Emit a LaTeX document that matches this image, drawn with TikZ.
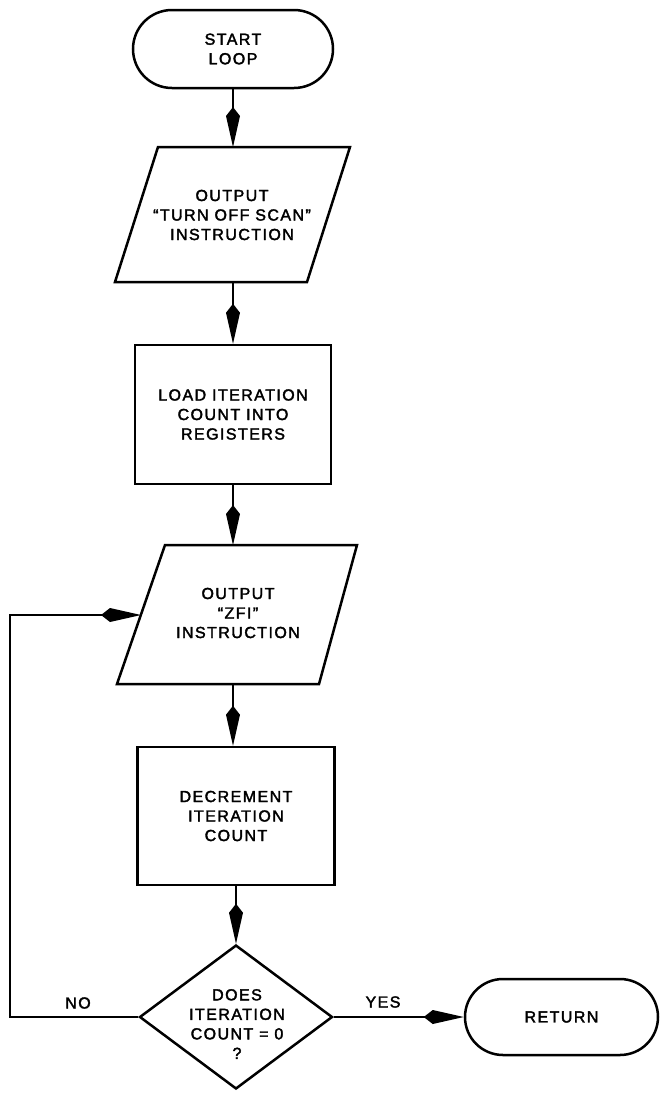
\documentclass[tikz,border=0pt]{standalone}
\usepackage{fontspec}
\setmainfont{Liberation Sans}[LetterSpace=9,FakeBold=2.2]
\usetikzlibrary{shapes.misc,shapes.geometric,arrows.meta}
\begin{document}
\begin{tikzpicture}[x=1pt,y=-1pt,
  shp/.style={draw=black,line width=2.5pt},
  txt/.style={align=center,inner sep=0pt,font=\fontsize{16}{19.5}\selectfont},
  term/.style={shp,txt,rounded rectangle,rounded rectangle arc length=180,minimum height=#1},
  box/.style={shp,txt,rectangle,minimum width=196pt,minimum height=139pt},
  conn/.style={line width=2.5pt,-{Kite[length=40pt,width=14pt,inset=9pt]}},
  lbl/.style={txt}]
\useasboundingbox (0,0) rectangle (660,1093);
\fill[white] (0,0) rectangle (660,1093);

% start terminal
\node[term=78pt,minimum width=200pt] (start) at (233,49) {START\\LOOP};

% parallelogram 1
\coordinate (p1tl) at (158,147);
\coordinate (p1tr) at (350,147);
\coordinate (p1br) at (307,282);
\coordinate (p1bl) at (115,282);
\coordinate (p1n) at (233,147);
\coordinate (p1s) at (233,282);
\draw[shp,line join=miter] (p1tl) -- (p1tr) -- (p1br) -- (p1bl) -- cycle;
\node[lbl] (p1) at (232,215) {OUTPUT\\“TURN OFF SCAN”\\INSTRUCTION};

% load box
\node[box] (load) at (233,414.5) {LOAD ITERATION\\COUNT INTO\\REGISTERS};

% parallelogram 2
\coordinate (p2tl) at (165,545);
\coordinate (p2tr) at (357,545);
\coordinate (p2br) at (319,684);
\coordinate (p2bl) at (117,684);
\coordinate (p2n) at (233,545);
\coordinate (p2s) at (233,684);
\coordinate (p2w) at (141,615);
\draw[shp,line join=miter] (p2tl) -- (p2tr) -- (p2br) -- (p2bl) -- cycle;
\node[lbl] (p2) at (238,613) {OUTPUT\\“ZFI”\\INSTRUCTION};

% decrement box
\node[box,minimum width=197pt,minimum height=138pt] (dec) at (236,816) {DECREMENT\\ITERATION\\COUNT};

% decision diamond
\node[shp,diamond,minimum width=193pt,minimum height=144pt,inner sep=0pt] (dia) at (236,1017) {};
\node[lbl] (diat) at (237,1024) {DOES\\ITERATION\\COUNT = 0\\?};

% return terminal
\node[term=76pt,minimum width=193pt] (ret) at (561.5,1017) {RETURN};

% connectors
\draw[conn] (start.south) -- (p1n);
\draw[conn] (p1s) -- (load.north);
\draw[conn] (load.south) -- (p2n);
\draw[conn] (p2s) -- (dec.north -| p2s);
\draw[conn] (dec.south) -- (dia.north);
\draw[conn] (dia.east) -- (ret.west);
\coordinate (lc1) at (10,1017);
\coordinate (lc2) at (10,615);
\draw[conn,line join=miter] (dia.west) -- (lc1) -- (lc2) -- (p2w);

% labels
\node[lbl] (no) at (78,1003) {NO};
\node[lbl] (yes) at (383,1002) {YES};
\end{tikzpicture}
\end{document}
